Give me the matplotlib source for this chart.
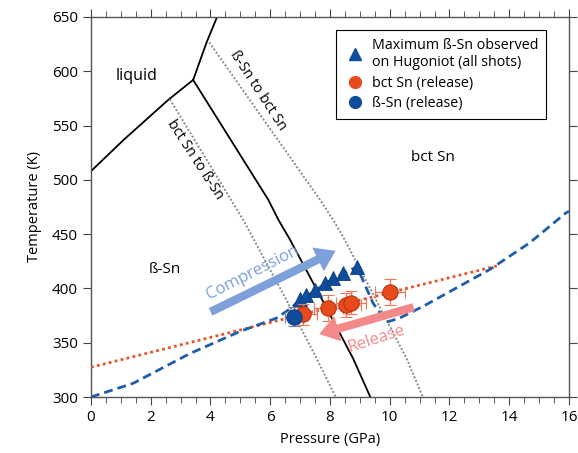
import matplotlib
matplotlib.use("Agg")
import matplotlib.pyplot as plt
from matplotlib.patches import FancyArrowPatch
from matplotlib.ticker import MultipleLocator

plt.rcParams['font.family'] = ['Open Sans', 'DejaVu Sans']

# phase boundaries (P in GPa, T in K)
melt_P = [0.0, 1.1, 2.6, 3.42]
melt_T = [508, 537, 574, 592]
melt_bct_P = [3.42, 3.87, 4.22]
melt_bct_T = [592, 626.6, 650]
beta_bct_P = [3.42, 5.93, 6.27, 6.66, 7.73, 8.77, 9.35]
beta_bct_T = [592, 481.9, 463.4, 445, 390, 335.7, 300]
bct_to_beta_P = [2.64, 5.09, 6.53, 7.55, 8.19]
bct_to_beta_T = [574.2, 463.4, 390, 335.7, 300]
beta_to_bct_P = [3.96, 7.66, 8.10, 8.49, 10.56, 11.11]
beta_to_bct_T = [626.6, 481.9, 463.4, 445, 335.7, 300]

# Hugoniot and release path
hug_P = [0, 1.41, 3.31, 4.98, 6.21, 6.6, 7.0, 7.5, 8.1, 8.9, 9.0, 9.44, 9.9,
         10.33, 11.11, 13.34, 14.68, 15.9, 16.0]
hug_T = [300, 312.6, 340, 360.3, 372.7, 380, 389, 398, 409, 420, 414, 386.5,
         369, 372.7, 383.4, 417.3, 441.9, 469.6, 471]
rel_P = [0.0, 13.62]
rel_T = [327.4, 421.0]

# data points
tri_P = [7.0, 7.2, 7.5, 7.85, 8.1, 8.45, 8.9]
tri_T = [390, 394, 399, 405, 410, 414, 420]
bct_P = [7.1, 7.95, 8.55, 8.7, 10.0]
bct_T = [376, 382, 385, 387, 397]
bct_Perr = [0.45, 0.5, 0.5, 0.5, 0.5]
bct_Terr = [10, 12, 11, 11, 12]
beta_P = [6.8]
beta_T = [374]
beta_Perr = [0.3]
beta_Terr = [9]

fig = plt.figure(figsize=(5.78, 4.53), dpi=100)
ax = fig.add_axes([0.1574, 0.1236, 0.8270, 0.8389])

ax.plot(melt_P, melt_T, color='black', lw=1.3)
ax.plot(melt_bct_P, melt_bct_T, color='black', lw=1.3)
ax.plot(beta_bct_P, beta_bct_T, color='black', lw=1.3)
ax.plot(bct_to_beta_P, bct_to_beta_T, color='#8a8a8a', lw=1.4, ls=(0, (1, 1)))
ax.plot(beta_to_bct_P, beta_to_bct_T, color='#8a8a8a', lw=1.4, ls=(0, (1, 1)))

ax.plot(rel_P, rel_T, color='#e8532b', lw=2, ls=(0, (1, 1.2)), zorder=3)
ax.plot(hug_P, hug_T, color='#1f5da6', lw=2, ls=(0, (3.2, 1.8)), zorder=3)

# arrows
comp = FancyArrowPatch((3.92, 377.3), (8.27, 435.7),
                       arrowstyle='simple,head_length=1.4,head_width=1.9,tail_width=0.6',
                       mutation_scale=10, color='#7d9fda', lw=0, zorder=4)
ax.add_patch(comp)
rel = FancyArrowPatch((10.89, 383.4), (7.55, 357.3),
                      arrowstyle='simple,head_length=1.4,head_width=1.9,tail_width=0.6',
                      mutation_scale=10, color='#f28a8a', lw=0, zorder=6)
ax.add_patch(rel)

ax.plot(tri_P, tri_T, ls='none', marker='^', ms=10, color='#0f4d9c',
        mec='#0a3d80', mew=0.6, zorder=5)
ax.errorbar(bct_P, bct_T, xerr=bct_Perr, yerr=bct_Terr, fmt='o', ms=11,
            color='#e84a1e', mec='#b5360f', mew=0.8, ecolor='#ec7a5a',
            elinewidth=1, capsize=4, zorder=5)
ax.errorbar(beta_P, beta_T, xerr=beta_Perr, yerr=beta_Terr, fmt='o', ms=11,
            color='#0f4d9c', mec='#0a3d80', mew=0.8, ecolor='#6f7f95',
            elinewidth=1, capsize=4, zorder=5)

# legend proxies
h1, = ax.plot([], [], ls='none', marker='^', ms=8.5, color='#0f4d9c')
h2, = ax.plot([], [], ls='none', marker='o', ms=8.5, color='#e84a1e')
h3, = ax.plot([], [], ls='none', marker='o', ms=8.5, color='#0f4d9c')
leg = ax.legend([h1, h2, h3],
                ['Maximum ß-Sn observed\non Hugoniot (all shots)',
                 'bct Sn (release)', 'ß-Sn (release)'],
                loc='upper left', bbox_to_anchor=(0.512, 0.966), fontsize=10.3,
                fancybox=False, framealpha=1, edgecolor='black',
                handletextpad=0.4, borderpad=0.55, labelspacing=0.4,
                handlelength=1.6, borderaxespad=0)
leg.get_frame().set_linewidth(0.8)

# region and arrow labels
ax.text(1.53, 595.5, 'liquid', fontsize=11.5, ha='center', va='center')
ax.text(11.45, 520.4, 'bct Sn', fontsize=11, ha='center', va='center')
ax.text(2.47, 417, 'ß-Sn', fontsize=11, ha='center', va='center')
ax.text(3.48, 518.8, 'bct Sn to ß-Sn', fontsize=10.3, ha='center', va='center',
        rotation=-57)
ax.text(5.6, 581.9, 'ß-Sn to bct Sn', fontsize=10.3, ha='center', va='center',
        rotation=-57)
ax.text(5.4, 414, 'Compression', fontsize=12, color='#7d9fda',
        ha='center', va='center', rotation=27)
ax.text(9.55, 353, 'Release', fontsize=12, color='#f28a8a',
        ha='center', va='center', rotation=18, zorder=7)

ax.set_xlim(0, 16)
ax.set_ylim(300, 650)
ax.xaxis.set_major_locator(MultipleLocator(2))
ax.xaxis.set_minor_locator(MultipleLocator(0.5))
ax.yaxis.set_major_locator(MultipleLocator(50))
ax.tick_params(which='both', direction='out', top=True, right=True,
               labelsize=11, color='#444')
ax.tick_params(which='major', length=6)
ax.tick_params(which='minor', length=4)
for s in ax.spines.values():
    s.set_color('#555')
    s.set_linewidth(1)

ax.set_xlabel('Pressure (GPa)', fontsize=10.5, labelpad=5)
ax.set_ylabel('Temperature (K)', fontsize=10.5, labelpad=7)

fig.savefig('out.png', dpi=100)
